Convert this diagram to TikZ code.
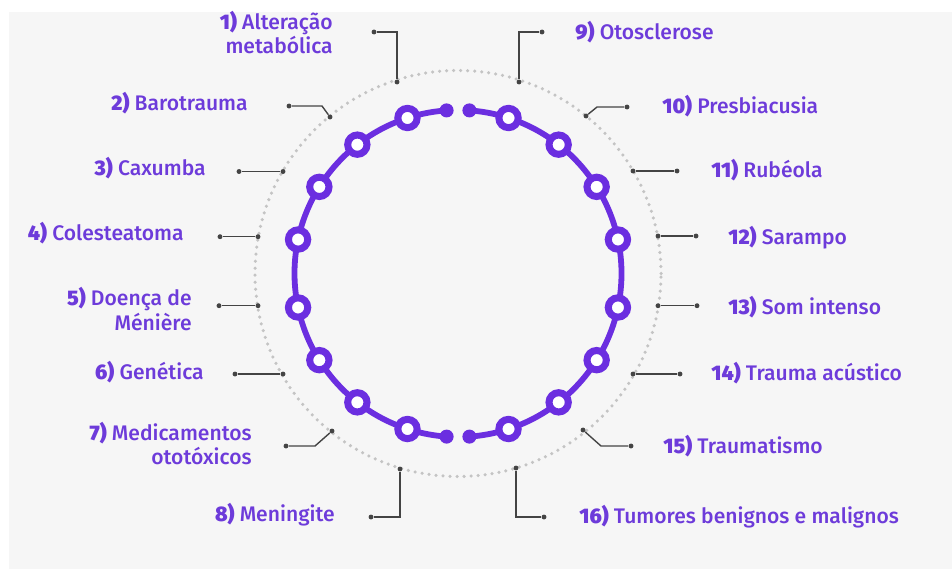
\documentclass[tikz,border=0pt]{standalone}
\usepackage{fontspec}
\setmainfont{Fira Sans Medium}[BoldFont={Fira Sans Black}]
\usetikzlibrary{positioning, calc}
\definecolor{ringPurple}{HTML}{6B2EE0}
\definecolor{labelPurple}{HTML}{6D3BDA}
\definecolor{leaderGray}{HTML}{444444}
\definecolor{dotGray}{HTML}{C4C4C4}
\definecolor{panelGray}{HTML}{F6F6F6}

\begin{document}
\begin{tikzpicture}[x=0.02cm, y=0.02cm,
    cause/.style={font=\fontsize{12}{14.2}\selectfont, text=labelPurple,
      inner sep=0pt},
    leftcause/.style={cause, anchor=east, align=right},
    rightcause/.style={cause, anchor=west, align=left},
    leader/.style={leaderGray, line width=0.8pt},
    tip/.style={circle, fill=leaderGray, inner sep=0pt, minimum size=2.8pt},
    stopring/.style={circle, draw=ringPurple, line width=4pt, fill=white,
      inner sep=0pt, minimum size=11pt},
    stopdot/.style={circle, fill=ringPurple, inner sep=0pt, minimum size=8pt},
    ring/.style={ringPurple, line width=3.3pt},
    dotring/.style={dotGray, line width=2pt, line cap=round,
      dash pattern=on 0pt off 4pt}
  ]
    \useasboundingbox (0,0) rectangle (952,569);
    \fill[white] (0,0) rectangle (952,569);
    \fill[panelGray] (9,0) rectangle (952,557);
    \coordinate (c) at (458,295.5);

    % ---- dotted outer circle ----
    \draw[dotring] (c) circle[radius=203];

    % ---- purple ring with stops ----
    \draw[ring] ($(c)+(94:163.5)$) arc[start angle=94, end angle=266, radius=163.5];
    \draw[ring] ($(c)+(86:163.5)$) arc[start angle=86, end angle=-86, radius=163.5];
    \foreach \a/\n in {108/a, 128/b, 148/c, 168/d, 192/e, 212/f, 232/g, 252/h,
                       72/i, 52/j, 32/k, 12/l, -12/m, -32/n, -52/o, -72/p}
      \node[stopring] (s\n) at ($(c)+(\a:163.5)$) {};
    \foreach \a/\n in {94/1, 86/2, 266/3, 274/4}
      \node[stopdot] (end\n) at ($(c)+(\a:163.5)$) {};

    % ---- leaders, straight ----
    \foreach \n/\x/\y/\ex in {3/283/397.5/239, 4/258/332.3/220, 5/258/263.3/219,
                             6/283/195/235, 11/633/398/677, 12/658/333/696,
                             13/658/263.3/697, 14/633/195/680} {
      \node[tip] (d\n) at (\x,\y) {};
      \node[tip] (e\n) at (\ex,\y) {};
      \draw[leader] (d\n) -- (e\n);
    }
    % ---- leaders, bent ----
    \node[tip] (d1) at (397,487) {};
    \node[tip] (e1) at (374,537) {};
    \draw[leader] (d1) |- (e1);
    \node[tip] (d9) at (519,487) {};
    \node[tip] (e9) at (542,537) {};
    \draw[leader] (d9) |- (e9);
    \node[tip] (d8) at (400,100) {};
    \node[tip] (e8) at (371,52) {};
    \draw[leader] (d8) |- (e8);
    \node[tip] (d16) at (516,101) {};
    \node[tip] (e16) at (544,52) {};
    \draw[leader] (d16) |- (e16);
    \node[tip] (d2) at (330,452) {};
    \node[tip] (e2) at (289,463) {};
    \draw[leader] (d2) -- ++(-8,11) -- (e2);
    \node[tip] (d10) at (586,453) {};
    \node[tip] (e10) at (627,462) {};
    \draw[leader] (d10) -- ++(11,9) -- (e10);
    \node[tip] (d7) at (332,138) {};
    \node[tip] (e7) at (286,123) {};
    \draw[leader] (d7) -- ++(-17,-15) -- (e7);
    \node[tip] (d15) at (583,139) {};
    \node[tip] (e15) at (631,123) {};
    \draw[leader] (d15) -- ++(18,-16) -- (e15);

    % ---- labels, left ----
    \node[leftcause] (lab1) at (333,536.5) {\textbf{1)} Alteração\\metabólica};
    \node[leftcause] (lab2) at (248,466) {\textbf{2)} Barotrauma};
    \node[leftcause] (lab3) at (206,401) {\textbf{3)} Caxumba};
    \node[leftcause] (lab4) at (184,336) {\textbf{4)} Colesteatoma};
    \node[leftcause] (lab5) at (192,260) {\textbf{5)} Doença de\\Ménière};
    \node[leftcause] (lab6) at (204,197) {\textbf{6)} Genética};
    \node[leftcause] (lab7) at (252,125.5) {\textbf{7)} Medicamentos\\ototóxicos};
    \node[leftcause] (lab8) at (335,54) {\textbf{8)} Meningite};
    % ---- labels, right ----
    \node[rightcause] (lab9) at (575,537) {\textbf{9)} Otosclerose};
    \node[rightcause] (lab10) at (662,463) {\textbf{10)} Presbiacusia};
    \node[rightcause] (lab11) at (711,399) {\textbf{11)} Rubéola};
    \node[rightcause] (lab12) at (728,331) {\textbf{12)} Sarampo};
    \node[rightcause] (lab13) at (728,262) {\textbf{13)} Som intenso};
    \node[rightcause] (lab14) at (711,196) {\textbf{14)} Trauma acústico};
    \node[rightcause] (lab15) at (663,123) {\textbf{15)} Traumatismo};
    \node[rightcause] (lab16) at (579,52) {\textbf{16)} Tumores benignos e malignos};
\end{tikzpicture}
\end{document}
